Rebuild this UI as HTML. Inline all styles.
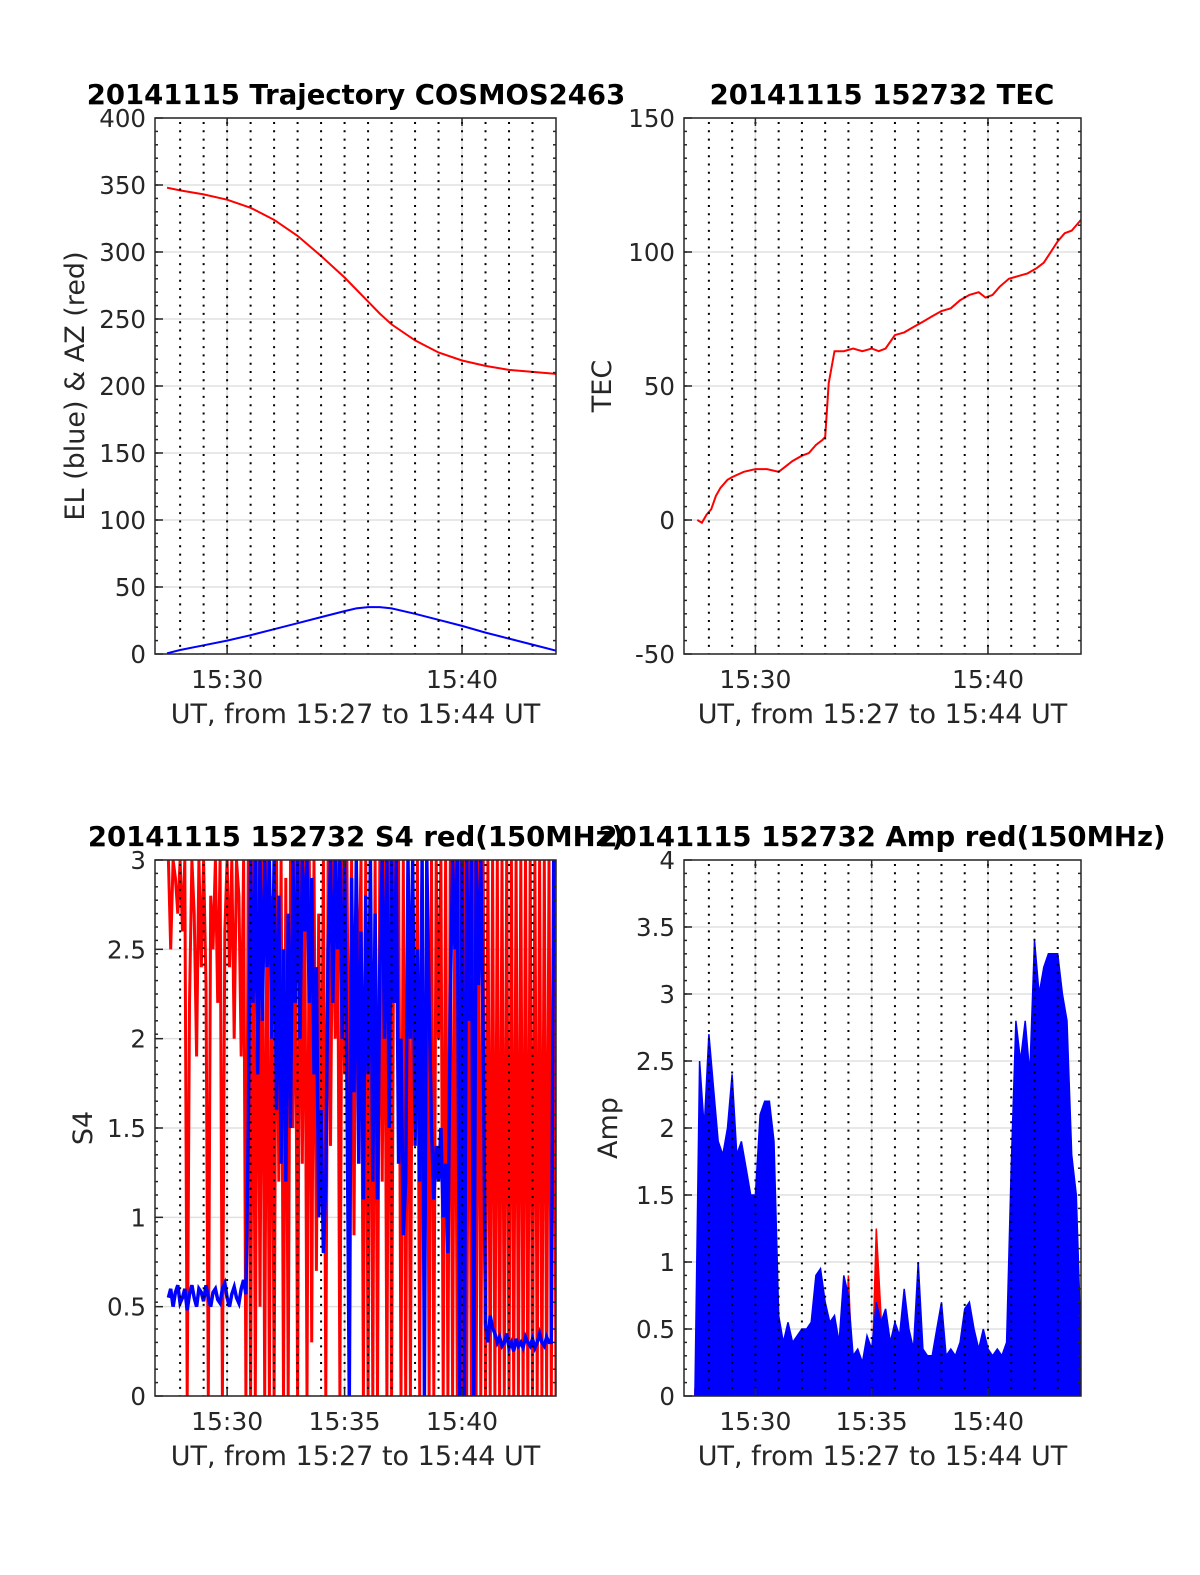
<!DOCTYPE html>
<html><head><meta charset="utf-8">
<style>
html,body{margin:0;padding:0;background:#fff;}
svg{display:block;font-family:"DejaVu Sans","Liberation Sans",sans-serif;}
</style></head>
<body>
<svg id="fig" width="1200" height="1575" viewBox="0 0 1200 1575" xmlns="http://www.w3.org/2000/svg"></svg>
<script>
// ---- Data arrays ----
const azTimes = [27.44,28,29,30,31,32,33,34,35,35.5,36,36.5,37,38,39,40,41,42,43,44];
const azValues = [348,346,343,339,333,324,312,297,281,272,263,254,246,234,225,219,215,212,210.5,209];
const elTimes = [27.44,28,29,30,31,32,33,34,35,35.5,36,36.5,37,38,39,40,41,42,43,44];
const elValues = [0.5,3,6.5,10,14,18.5,23,27.5,32,34,35,35,34,30,25.5,21,16,11.5,7,2.5];

const tecTimes = [27.5,27.7,27.9,28.1,28.3,28.5,28.8,29.0,29.5,30.0,30.5,31.0,31.3,31.6,32.0,32.3,32.6,32.9,33.0,33.15,33.4,33.8,34.2,34.6,35.0,35.3,35.6,36.0,36.4,36.8,37.2,37.6,38.0,38.4,38.8,39.2,39.6,39.9,40.2,40.5,40.9,41.3,41.7,42.1,42.4,42.7,43.0,43.3,43.6,43.9,44.0];
const tecValues = [0,-1,2,4,9,12,15,16,18,19,19,18,20,22,24,25,28,30,31,51,63,63,64,63,64,63,64,69,70,72,74,76,78,79,82,84,85,83,84,87,90,91,92,94,96,100,104,107,108,111,112];

const s4Start = 27.5, s4Step = 0.1;
const s4Red = [3,2.5,3,2.9,2.7,
3,2.6,3,0,2.2,3,2.7,1.9,3,2.4,
3,2.3,0,2.8,2.5,3,2.2,3,0,2.6,
3,2.4,3,2.0,3,2.8,1.9,3,0,3,
0,3,0,3,0.5,3,0,3,0,2.8,
0,3,1.2,3,0,2.9,0,3,1.5,3,
0,3,1.3,3,0,3,0.3,3,0.7,2.7,
1.2,3,0,3,1.4,3,2,3,0,3,
1.8,3,1.3,3,0.9,3,2.2,3,0,3,
0,3,0,3,0,3,1.2,3,0,3,
0,3,2.2,3,0,3,0,3,0,3,
1.5,3,0,3,0,3,0,3,0,3,
2,3,0,3,0,3,0,3,0,3,
0,3,0,3,0,3,0,3,0,3,
0,3,0,3,0,3,0,3,0,3,
0,3,0,3,0,3,0,3,0,3,
0,3,0,3,0,3,0,3,0,3,0];
const s4Blue = [0.55,0.6,0.5,0.58,0.62,0.52,0.55,0.6,0.48,0.57,0.62,0.55,0.5,0.6,0.58,0.53,0.62,0.55,0.5,0.58,0.6,0.54,0.52,0.6,0.63,0.55,0.5,0.57,0.61,0.55,0.52,0.6,0.65,0.57,
1.5,3,2.2,3,1.8,3,2.1,3,2.4,3,
2.0,3,1.6,2.8,1.3,2.5,1.2,2.7,1.5,3,
2.2,3,2.0,3,2.6,3,2.2,2.9,1.8,2.4,
1.0,1.6,0.8,1.2,2.5,3,2.2,3,2.5,3,
2.0,3,1.8,0,2.9,1.7,3,1.3,2.6,1.1,
2.8,1.8,3,1.2,2.7,1.1,2.4,3,2.0,3,
1.5,3,2.2,3,1.3,2.0,0.9,1.2,3,2.0,
3,1.4,2.5,1.2,3,0,3,2.2,1.5,1.1,
1.4,1.2,1.5,1.0,1.3,0.8,2.2,3,2.5,3,
0,3,0,3,2.1,3,0,3,2.3,3,
2.0,0.4,0.3,0.45,0.38,0.35,0.3,0.33,0.28,0.3,
0.35,0.27,0.3,0.25,0.32,0.28,0.3,0.27,0.33,0.3,
0.28,0.32,0.27,0.3,0.35,0.3,0.28,0.33,0.3,0.3,3,3];

const ampStart = 27.4, ampStep = 0.2;
const ampBlue = [0,2.5,2.0,2.7,2.3,1.9,1.8,2.0,2.4,1.8,1.9,1.7,1.5,1.5,2.1,2.2,2.2,1.9,
0.6,0.4,0.55,0.4,0.45,0.5,0.5,0.55,0.9,0.95,0.7,0.55,0.6,0.4,0.9,0.75,0.3,0.35,0.25,0.45,0.35,0.7,0.55,0.65,0.4,0.55,0.45,0.8,0.5,0.35,1.0,0.35,0.3,0.3,0.5,0.7,0.3,0.35,0.3,0.4,0.65,0.7,0.5,0.35,0.5,0.35,0.3,0.35,0.3,0.4,
1.7,2.8,2.5,2.8,2.4,3.4,3.0,3.2,3.3,3.3,3.3,3.0,2.8,1.8,1.5,0.4];
const ampRed = [0.05,0.05,0.05,0.05,0.05,0.05,0.05,0.05,0.05,0.05,0.05,0.05,0.05,0.05,0.05,0.05,0.05,0.05,
0.05,0.05,0.05,0.05,0.05,0.05,0.05,0.05,0.05,0.05,0.05,0.05,0.05,0.05,0.05,0.9,0.05,0.05,0.05,0.05,0.05,1.25,0.6,0.05,0.05,0.05,0.05,0.05,0.05,0.05,0.05,0.05,0.05,0.05,0.05,0.05,0.05,0.05,0.05,0.05,0.05,0.05,0.05,0.05,0.05,0.05,0.05,0.05,0.05,0.05,
0.15,0.15,0.12,0.15,0.15,0.12,0.15,0.15,0.12,0.15,0.15,0.12,0.15,0.15,0.05,0.0];

const yTicks1 = [0,50,100,150,200,250,300,350,400];
const yTicks2 = [-50,0,50,100,150];
const yTicks3 = [0,0.5,1,1.5,2,2.5,3];
const yTicks3Labels = ["0","0.5","1","1.5","2","2.5","3"];
const yTicks4 = [0,0.5,1,1.5,2,2.5,3,3.5,4];
const yTicks4Labels = ["0","0.5","1","1.5","2","2.5","3","3.5","4"];
const xTicksTop = [30,40];
const xTicksBottom = [30,35,40];

// ---- helpers ----
const NS = "http://www.w3.org/2000/svg";
const fig = document.getElementById('fig');
function mk(tag, attrs, parent){
  const e = document.createElementNS(NS, tag);
  for (const k in attrs) e.setAttribute(k, attrs[k]);
  (parent||fig).appendChild(e);
  return e;
}
const TMIN = 26.93, TMAX = 44.0;

function panel(cfg){
  const g = mk('g', {});
  
  
  const sx = t => cfg.x0 + (t - TMIN) / (TMAX - TMIN) * (cfg.x1 - cfg.x0);
  const sy = v => cfg.y1 - (v - cfg.ymin) / (cfg.ymax - cfg.ymin) * (cfg.y1 - cfg.y0);
  const clipId = cfg.name + '-clip';
  const cp = mk('clipPath', {id: clipId}, g);
  mk('rect', {x: cfg.x0, y: cfg.y0, width: cfg.x1 - cfg.x0, height: cfg.y1 - cfg.y0}, cp);
  cfg.yticks.forEach(v => {
    const l = mk('line', {x1: cfg.x0, x2: cfg.x1, y1: sy(v), y2: sy(v), stroke: '#e0e0e0', 'stroke-width': 1.5}, g);
    
    
  });
  cfg.xticks.forEach(t => {
    const l = mk('line', {x1: sx(t), x2: sx(t), y1: cfg.y0, y2: cfg.y1, stroke: '#e0e0e0', 'stroke-width': 1.5}, g);
    
    
  });
  const dg = mk('g', {'clip-path': 'url(#' + clipId + ')'}, g);
  cfg.draw(dg, sx, sy);
  for (let m = 28; m <= 43; m++) {
    const l = mk('line', {x1: sx(m), x2: sx(m), y1: cfg.y0 + 4, y2: cfg.y1, stroke: '#000', 'stroke-width': 2, 'stroke-dasharray': '2 6.3'}, g);
    
    
  }
  const box = mk('rect', {x: cfg.x0, y: cfg.y0, width: cfg.x1 - cfg.x0, height: cfg.y1 - cfg.y0, fill: 'none', stroke: '#262626', 'stroke-width': 1.5}, g);
  
  
  const ny = 40;
  for (let i = 1; i < ny; i++) {
    const y = cfg.y0 + i * (cfg.y1 - cfg.y0) / ny;
    mk('line', {x1: cfg.x0, x2: cfg.x0 + 3, y1: y, y2: y, stroke: '#262626', 'stroke-width': 1.5}, g);
    mk('line', {x1: cfg.x1, x2: cfg.x1 - 3, y1: y, y2: y, stroke: '#262626', 'stroke-width': 1.5}, g);
  }
  cfg.yticks.forEach((v, i) => {
    mk('line', {x1: cfg.x0, x2: cfg.x0 + 8, y1: sy(v), y2: sy(v), stroke: '#262626', 'stroke-width': 1.5}, g);
    const t = mk('text', {x: cfg.x0 - 9, y: sy(v) + 9, 'text-anchor': 'end', 'font-size': 24.5, fill: '#262626'}, g);
    t.textContent = cfg.ylabels ? cfg.ylabels[i] : String(v);
    
    
  });
  cfg.xticks.forEach(m => {
    mk('line', {x1: sx(m), x2: sx(m), y1: cfg.y1, y2: cfg.y1 - 8, stroke: '#262626', 'stroke-width': 1.5}, g);
    mk('line', {x1: sx(m), x2: sx(m), y1: cfg.y0, y2: cfg.y0 + 8, stroke: '#262626', 'stroke-width': 1.5}, g);
    const t = mk('text', {x: sx(m), y: cfg.y1 + 34, 'text-anchor': 'middle', 'font-size': 25, fill: '#262626'}, g);
    t.textContent = '15:' + m;
    
    
  });
  const xl = mk('text', {x: (cfg.x0 + cfg.x1) / 2, y: cfg.y1 + 69, 'text-anchor': 'middle', 'font-size': 27, fill: '#262626'}, g);
  xl.textContent = 'UT, from 15:27 to 15:44 UT';
  
  
  const yx = cfg.ylabelX, yy = (cfg.y0 + cfg.y1) / 2;
  const yl = mk('text', {x: yx, y: yy, 'text-anchor': 'middle', 'font-size': 27, fill: '#262626', transform: 'rotate(-90 ' + yx + ' ' + yy + ')'}, g);
  yl.textContent = cfg.ylabel;
  
  
  const ti = mk('text', {x: cfg.titleX, y: cfg.y0 - 14, 'text-anchor': 'middle', 'font-size': 27.5, 'font-weight': 'bold', fill: '#000'}, g);
  ti.textContent = cfg.title;
  
  
}

function polyTimes(times, vals, sx, sy){
  return times.map((t, i) => sx(t).toFixed(1) + ',' + sy(vals[i]).toFixed(1)).join(' ');
}
function polyStep(start, step, vals, sx, sy){
  return vals.map((v, i) => sx(start + i * step).toFixed(1) + ',' + sy(v).toFixed(1)).join(' ');
}

panel({name: 'trajectory-panel', x0: 155, x1: 556, y0: 118, y1: 654, ymin: 0, ymax: 400,
  yticks: yTicks1, xticks: xTicksTop, ylabel: 'EL (blue) & AZ (red)', ylabelX: 84,
  title: '20141115 Trajectory COSMOS2463', titleX: 356,
  draw: (g, sx, sy) => {
    const a = mk('polyline', {points: polyTimes(azTimes, azValues, sx, sy), fill: 'none', stroke: '#f00', 'stroke-width': 2}, g);
    
    
    const e = mk('polyline', {points: polyTimes(elTimes, elValues, sx, sy), fill: 'none', stroke: '#00f', 'stroke-width': 2}, g);
    
    
  }});

panel({name: 'tec-panel', x0: 684, x1: 1081, y0: 118, y1: 654, ymin: -50, ymax: 150,
  yticks: yTicks2, xticks: xTicksTop, ylabel: 'TEC', ylabelX: 611,
  title: '20141115 152732 TEC', titleX: 882,
  draw: (g, sx, sy) => {
    const a = mk('polyline', {points: polyTimes(tecTimes, tecValues, sx, sy), fill: 'none', stroke: '#f00', 'stroke-width': 2}, g);
    
    
  }});

panel({name: 's4-panel', x0: 155, x1: 556, y0: 860, y1: 1396, ymin: 0, ymax: 3,
  yticks: yTicks3, ylabels: yTicks3Labels, xticks: xTicksBottom, ylabel: 'S4', ylabelX: 92,
  title: '20141115 152732 S4 red(150MHz)', titleX: 356,
  draw: (g, sx, sy) => {
    const a = mk('polyline', {points: polyStep(s4Start, s4Step, s4Red, sx, sy), fill: 'none', stroke: '#f00', 'stroke-width': 3}, g);
    
    
    const b = mk('polyline', {points: polyStep(s4Start, s4Step, s4Blue, sx, sy), fill: 'none', stroke: '#00f', 'stroke-width': 3.5}, g);
    
    
  }});

panel({name: 'amp-panel', x0: 684, x1: 1081, y0: 860, y1: 1396, ymin: 0, ymax: 4,
  yticks: yTicks4, ylabels: yTicks4Labels, xticks: xTicksBottom, ylabel: 'Amp', ylabelX: 617,
  title: '20141115 152732 Amp red(150MHz)', titleX: 882,
  draw: (g, sx, sy) => {
    const ptsR = polyStep(ampStart, ampStep, ampRed, sx, sy);
    const r = mk('polygon', {points: sx(ampStart).toFixed(1) + ',' + sy(0) + ' ' + ptsR + ' ' + sx(ampStart + (ampRed.length - 1) * ampStep).toFixed(1) + ',' + sy(0), fill: '#f00', stroke: '#f00', 'stroke-width': 1.5}, g);
    
    
    const ptsB = polyStep(ampStart, ampStep, ampBlue, sx, sy);
    const b = mk('polygon', {points: sx(ampStart).toFixed(1) + ',' + sy(0) + ' ' + ptsB + ' ' + sx(ampStart + (ampBlue.length - 1) * ampStep).toFixed(1) + ',' + sy(0), fill: '#00f', stroke: '#00f', 'stroke-width': 1.5}, g);
    
    
  }});
</script>
</body></html>
